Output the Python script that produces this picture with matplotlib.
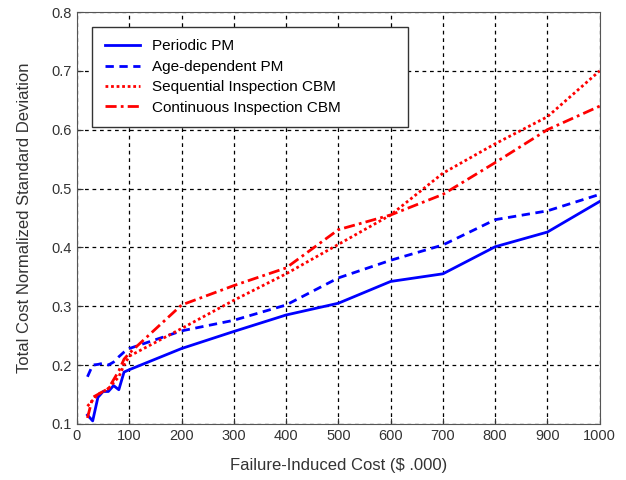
import matplotlib
matplotlib.use('Agg')
import matplotlib.pyplot as plt

plt.rcParams['font.family'] = ['Liberation Sans', 'DejaVu Sans']

# Failure-induced cost ($ .000)
cost = [20, 30, 40, 50, 60, 70, 80, 90, 100, 200, 300, 400, 500, 600, 700, 800, 900, 1000]

periodic_pm = [0.115, 0.105, 0.145, 0.155, 0.155, 0.165, 0.158, 0.188, 0.192,
               0.228, 0.257, 0.285, 0.305, 0.342, 0.355, 0.401, 0.426, 0.478]
age_pm = [0.180, 0.200, 0.201, 0.203, 0.200, 0.205, 0.214, 0.222, 0.228,
          0.258, 0.276, 0.302, 0.348, 0.378, 0.404, 0.447, 0.462, 0.490]
seq_cbm = [0.130, 0.140, 0.150, 0.155, 0.160, 0.170, 0.180, 0.200, 0.215,
           0.262, 0.310, 0.355, 0.405, 0.455, 0.526, 0.576, 0.622, 0.700]
cont_cbm = [0.110, 0.145, 0.150, 0.155, 0.160, 0.175, 0.190, 0.210, 0.220,
            0.302, 0.335, 0.365, 0.430, 0.455, 0.490, 0.544, 0.600, 0.640]

fig = plt.figure(figsize=(6.26, 4.8), dpi=100)
ax = fig.add_axes([0.123, 0.117, 0.835, 0.858])

ax.plot(cost, periodic_pm, color='#0000ff', lw=2, ls='-', label='Periodic PM')
ax.plot(cost, age_pm, color='#0000ff', lw=2, ls=(0, (3, 2)), label='Age-dependent PM')
ax.plot(cost, seq_cbm, color='#ff0000', lw=2, ls=(0, (1, 1)), label='Sequential Inspection CBM')
ax.plot(cost, cont_cbm, color='#ff0000', lw=2, ls=(0, (4, 1.5, 1, 1.5)), label='Continuous Inspection CBM')

ax.set_xlim(0, 1000)
ax.set_ylim(0.1, 0.8)
ax.set_xticks(range(0, 1001, 100))
ax.set_yticks([0.1, 0.2, 0.3, 0.4, 0.5, 0.6, 0.7, 0.8])
ax.grid(True, color='k', ls=(0, (3, 3)), lw=0.9)
ax.tick_params(direction='in', labelsize=10.5, colors='#333333', length=4)
for s in ax.spines.values():
    s.set_color('#555555')

ax.set_xlabel('Failure-Induced Cost ($ .000)', fontsize=12, color='#333333', labelpad=11)
ax.set_ylabel('Total Cost Normalized Standard Deviation', fontsize=12, color='#333333', labelpad=14)

# wide MATLAB-style legend box
leg = ax.legend(loc='upper left', bbox_to_anchor=(0.0293, 0.963, 0.604, 0.0), mode='expand',
                fontsize=11, fancybox=False, framealpha=1, edgecolor='#333333',
                handlelength=2.35, handletextpad=0.75, borderpad=0.8, labelspacing=0.42,
                borderaxespad=0)
leg.get_frame().set_linewidth(1.0)

fig.savefig('out.png', dpi=100)
